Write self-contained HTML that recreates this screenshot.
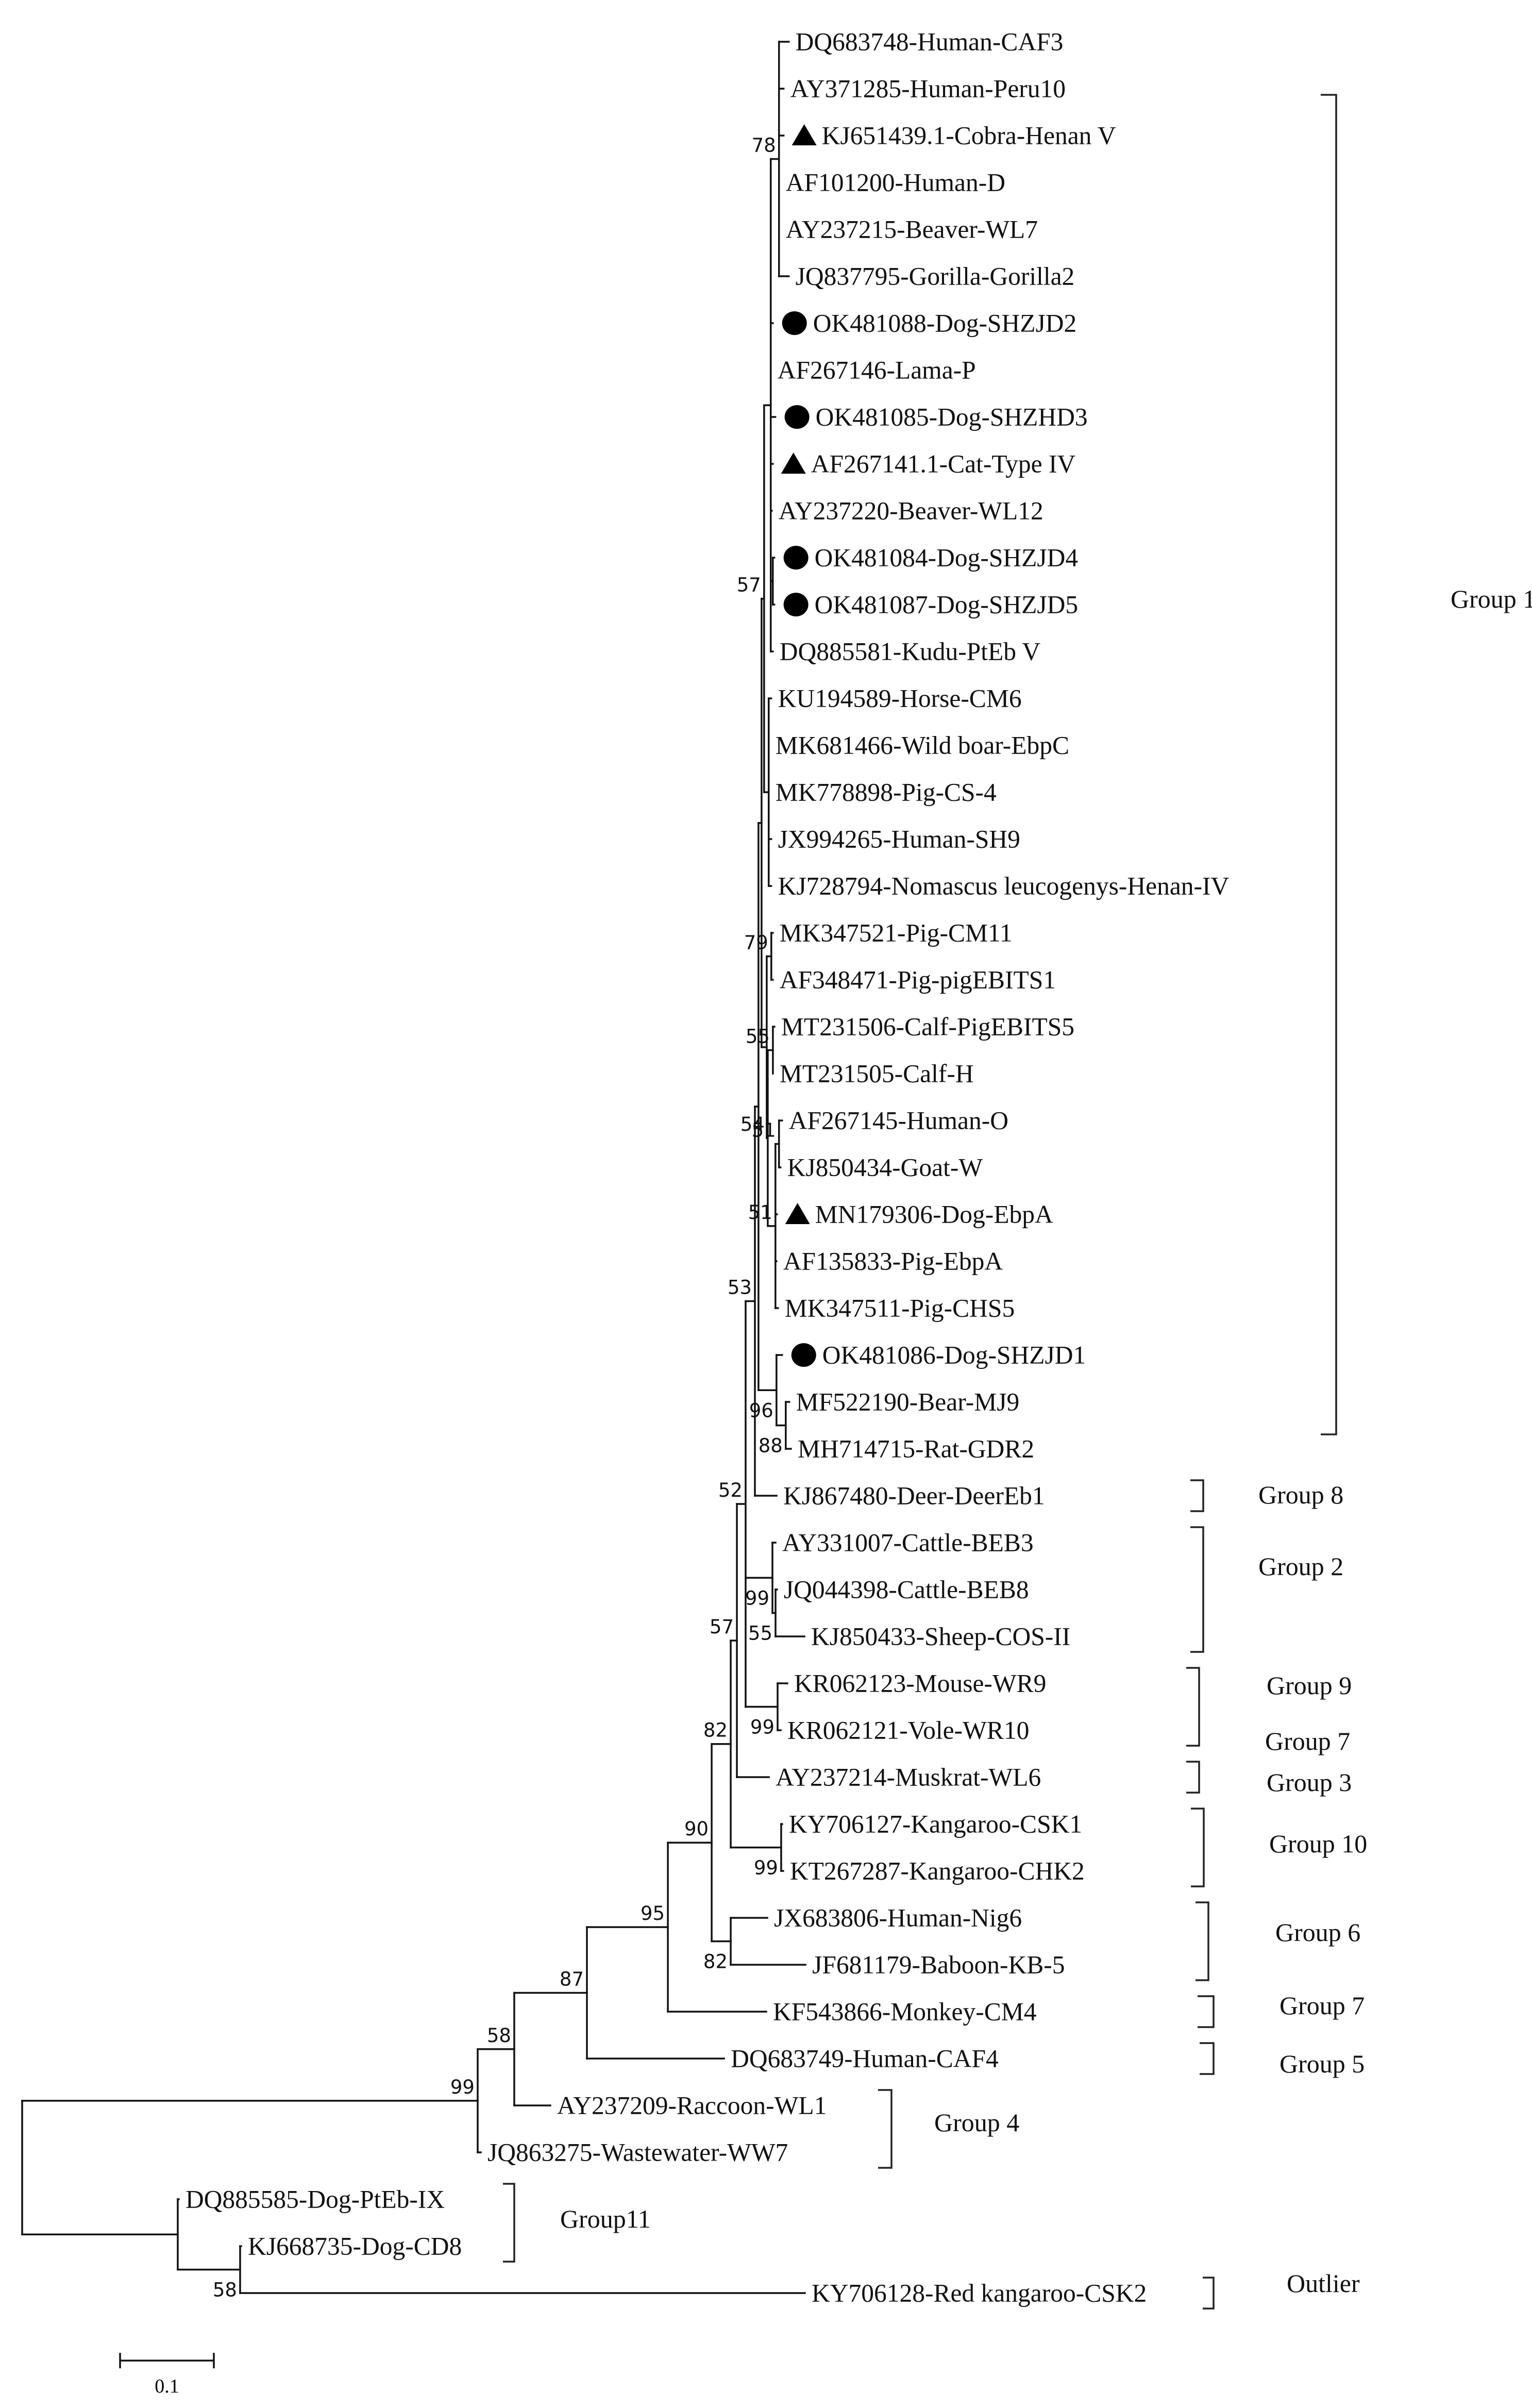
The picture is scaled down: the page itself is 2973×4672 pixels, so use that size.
<!DOCTYPE html>
<html><head><meta charset="utf-8">
<style>
html,body{margin:0;padding:0;background:#fff;}
svg{display:block;}
.leaf{font-family:"Liberation Serif",serif;font-size:49.5px;fill:#111;}
.boot{font-family:"DejaVu Sans","Liberation Sans",sans-serif;font-size:37px;fill:#111;}
.grp{font-family:"Liberation Serif",serif;font-size:50px;fill:#111;}
</style></head>
<body>
<svg id="chart" width="2973" height="4672" viewBox="0 0 2973 4672" xmlns="http://www.w3.org/2000/svg">
<g id="branches" stroke="#111" stroke-width="3.5" fill="none" stroke-linecap="square"></g>
<g id="leaves"></g>
<g id="boots"></g>
<g id="groups"></g>
<g id="scalebar">
  <line x1="233" y1="4580" x2="415" y2="4580" stroke="#111" stroke-width="3.5"/>
  <line x1="233" y1="4565" x2="233" y2="4595" stroke="#111" stroke-width="3.5"/>
  <line x1="415" y1="4565" x2="415" y2="4595" stroke="#111" stroke-width="3.5"/>
  <text x="324" y="4642" text-anchor="middle" font-family="Liberation Serif, serif" font-size="38">0.1</text>
</g>
</svg>
<script>
// ---- tree data (Newick with branch lengths & bootstrap) ----
const NB = "((DQ683748-Human-CAF3:0.0104,AY371285-Human-Peru10:0.0049,KJ651439.1-Cobra-Henan V:0.0049,AF101200-Human-D:0,AY237215-Beaver-WL7:0,JQ837795-Gorilla-Gorilla2:0.0104)78:0.0088,OK481088-Dog-SHZJD2:0.0022,AF267146-Lama-P:0,OK481085-Dog-SHZHD3:0.0049,AF267141.1-Cat-Type IV:0.0022,AY237220-Beaver-WL12:0.0011,(OK481084-Dog-SHZJD4:0.0016,OK481087-Dog-SHZJD5:0.0016):0.0022,DQ885581-Kudu-PtEb V:0.0022):0.0071";
const NKU = "(KU194589-Horse-CM6:0.0027,MK681466-Wild boar-EbpC:0,MK778898-Pig-CS-4:0,JX994265-Human-SH9:0.0027,KJ728794-Nomascus leucogenys-Henan-IV:0.0027):0.0049";
const N79 = "((MK347521-Pig-CM11:0.0016,AF348471-Pig-pigEBITS1:0.0016)79:0.0049,((MT231506-Calf-PigEBITS5:0.0016,MT231505-Calf-H:0)55:0.0055,((AF267145-Human-O:0.0033,KJ850434-Goat-W:0.0016)51:0.0038,MN179306-Dog-EbpA:0.0016,AF135833-Pig-EbpA:0.0011,MK347511-Pig-CHS5:0.0027)51:0.0082)54:0.0011):0.0055";
const G1 = "((" + NB + "," + NKU + ")57:0.0027," + N79 + "):0.0033";
const N96 = "(" + G1 + ",(OK481086-Dog-SHZJD1:0.0060,(MF522190-Bear-MJ9:0.0038,MH714715-Rat-GDR2:0.0055)88:0.0099)96:0.0192):0.0038";
const N88 = "(" + N96 + ",KJ867480-Deer-DeerEb1:0.0231)53:0.0099";
const N52 = "(" + N88 + ",(AY331007-Cattle-BEB3:0.0033,(JQ044398-Cattle-BEB8:0.0016,KJ850433-Sheep-COS-II:0.0308)55:0.0033)99:0.0286,(KR062123-Mouse-WR9:0.0104,KR062121-Vole-WR10:0.0033)99:0.0341)52:0.0093";
const N57 = "(" + N52 + ",AY237214-Muskrat-WL6:0.0341)57:0.0066";
const N82 = "(" + N57 + ",(KY706127-Kangaroo-CSK1:0.0011,KT267287-Kangaroo-CHK2:0.0022)99:0.0538)82:0.0203";
const N90 = "(" + N82 + ",(JX683806-Human-Nig6:0.0390,JF681179-Baboon-KB-5:0.0797)82:0.0203)90:0.0467";
const N95 = "(" + N90 + ",KF543866-Monkey-CM4:0.1049)95:0.0863";
const N87 = "(" + N95 + ",DQ683749-Human-CAF4:0.1462)87:0.0775";
const N58 = "(" + N87 + ",AY237209-Raccoon-WL1:0.0385)58:0.0390";
const N99 = "(" + N58 + ",JQ863275-Wastewater-WW7:0.0033)99:0.4857";
const N11 = "(DQ885585-Dog-PtEb-IX:0.0011,(KJ668735-Dog-CD8:0.0011,KY706128-Red kangaroo-CSK2:0.6022)58:0.0665):0.1659";
const newick = "(" + N99 + "," + N11 + ");";

const circleLeaves = ["OK481088-Dog-SHZJD2","OK481085-Dog-SHZHD3","OK481084-Dog-SHZJD4","OK481087-Dog-SHZJD5","OK481086-Dog-SHZJD1"];
const triangleLeaves = ["KJ651439.1-Cobra-Henan V","AF267141.1-Cat-Type IV","MN179306-Dog-EbpA"];
const belowLabels = ["OK481086-Dog-SHZJD1|96","MF522190-Bear-MJ9|88","AY331007-Cattle-BEB3|99","JQ044398-Cattle-BEB8|55","KR062123-Mouse-WR9|99","KY706127-Kangaroo-CSK1|99","JX683806-Human-Nig6|82","KJ668735-Dog-CD8|58"];

const groupNames = ["Group 1","Group 8","Group 2","Group 9","Group 7","Group 3","Group 10","Group 6","Group 7","Group 5","Group 4","Group11","Outlier"];
const groupSpans = [[0,30],[31,31],[32,34],[35,36],null,[37,37],[38,39],[40,41],[42,42],[43,43],[44,45],[46,47],[48,48]];

// ---- scales ----
const X0 = 43, PX_PER_UNIT = 1820;
const xScale = d => X0 + d * PX_PER_UNIT;
const Y0 = 81, ROW = 91;
const yScale = i => Y0 + i * ROW;

// ---- parse ----
function parse(s){
  let p = 0;
  function node(){
    const n = {children:[], name:"", len:0};
    if (s[p] === "("){
      p++;
      n.children.push(node());
      while (s[p] === ","){ p++; n.children.push(node()); }
      p++;
    }
    let name = "";
    while (p < s.length && !":,();".includes(s[p])) name += s[p++];
    n.name = name;
    if (s[p] === ":"){
      p++; let num = "";
      while (p < s.length && !",();".includes(s[p])) num += s[p++];
      n.len = parseFloat(num);
    }
    return n;
  }
  return node();
}
const root = parse(newick);
let leafIdx = 0;
function layout(n, depth){
  n.depth = depth + n.len;
  n.x = xScale(n.depth);
  if (!n.children.length){ n.y = yScale(leafIdx++); n.first = n.name; return; }
  n.children.forEach(c => layout(c, n.depth));
  n.y = (n.children[0].y + n.children[n.children.length-1].y) / 2;
  n.first = n.children[0].first;
}
root.len = 0;
layout(root, 0);

const NS = "http://www.w3.org/2000/svg";
const gB = document.getElementById("branches");
const gL = document.getElementById("leaves");
const gS = document.getElementById("boots");
const gG = document.getElementById("groups");
function mk(tag, attrs){ const e = document.createElementNS(NS, tag); for (const k in attrs) e.setAttribute(k, attrs[k]); return e; }

function draw(n){
  if (n.children.length){
    const v = mk("line", {x1:n.x, y1:n.children[0].y, x2:n.x, y2:n.children[n.children.length-1].y});
    
    
    gB.appendChild(v);
    n.children.forEach(c => {
      if (c.x - n.x > 0.5){
        const h = mk("line", {x1:n.x, y1:c.y, x2:c.x, y2:c.y});
        
        
        gB.appendChild(h);
      }
      draw(c);
    });
    if (n.name){
      const below = belowLabels.includes(n.first + "|" + n.name);
      const t = mk("text", {x:n.x - 6, y: below ? n.y + 52 : n.y - 14, "text-anchor":"end", class:"boot"});
      t.textContent = n.name;
      
      
      gS.appendChild(t);
    }
  } else {
    let tx = n.x + 13;
    if (circleLeaves.includes(n.name)){
      const c = mk("ellipse", {cx:n.x + 42, cy:n.y, rx:24, ry:23, fill:"#000"});
      
      
      gL.appendChild(c);
      tx = n.x + 78;
    } else if (triangleLeaves.includes(n.name)){
      const x1 = n.x + 16;
      const tr = mk("polygon", {points:`${x1},${n.y+19} ${x1+48},${n.y+19} ${x1+24},${n.y-22}`, fill:"#000"});
      
      
      gL.appendChild(tr);
      tx = n.x + 74;
    }
    const t = mk("text", {x:tx, y:n.y, "dominant-baseline":"central", class:"leaf"});
    t.textContent = n.name;
    
    
    gL.appendChild(t);
  }
}
draw(root);

// ---- group brackets ----
const bracketX = [2563,2310,2310,2302,null,2302,2311,2320,2324,2328,1704,976,2334];
const bracketW = [30,25,25,25,null,25,25,25,31,27,26,22,21];
const labelX = [2815,2442,2442,2458,2455,2458,2463,2475,2483,2483,1813,1087,2497];
const labelY = [1162,2900,3039,3270,3378,3458,3577,3749,3891,4004,4118,4305,4430];
groupNames.forEach((g, k) => {
  const span = groupSpans[k];
  if (span){
    let y1 = yScale(span[0]) - 30, y2 = yScale(span[1]) + 30;
    if (k === 0){ y1 = 184; y2 = 2783; }
    const xl = bracketX[k], xr = bracketX[k] + bracketW[k];
    const p = mk("polyline", {points:`${xl},${y1} ${xr},${y1} ${xr},${y2} ${xl},${y2}`, fill:"none", stroke:"#222", "stroke-width":3.5});
    
    
    gG.appendChild(p);
  }
  const t = mk("text", {x:labelX[k], y:labelY[k], "dominant-baseline":"central", class:"grp"});
  t.textContent = g;
  
  
  gG.appendChild(t);
});
</script>
</body></html>
